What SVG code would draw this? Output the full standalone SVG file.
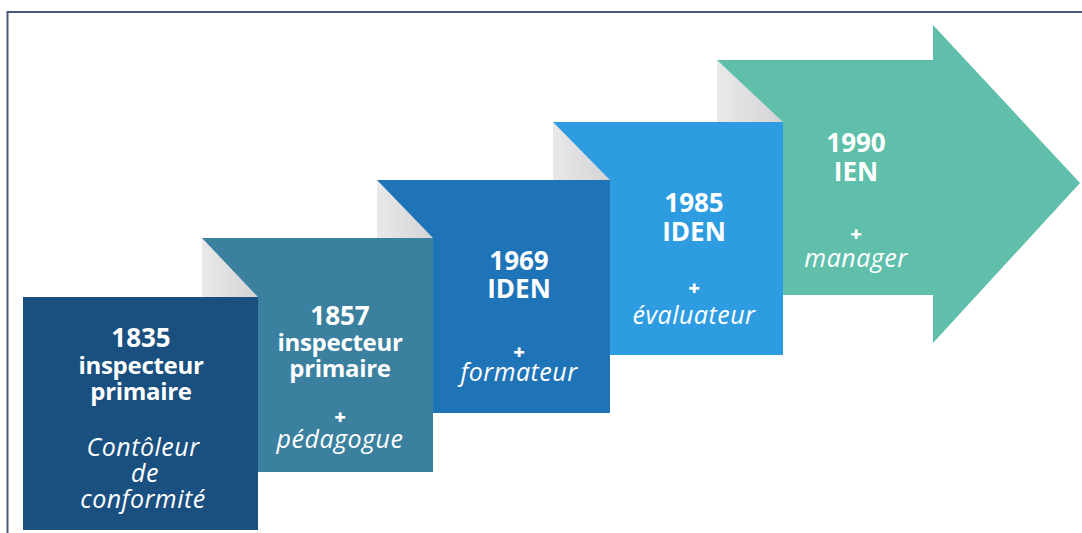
<svg xmlns="http://www.w3.org/2000/svg" width="1082" height="533" viewBox="0 0 1082 533">
<defs>
<linearGradient id="fold" x1="0" y1="0" x2="1" y2="0">
<stop offset="0" stop-color="#e9e9ea"/>
<stop offset="1" stop-color="#d3d3d6"/>
</linearGradient>
<style>
.t{font-family:"Open Sans","Liberation Sans",sans-serif;fill:#ffffff;text-anchor:middle;}
.b{font-weight:700;font-size:24px;letter-spacing:-0.3px;}
.w{font-size:26px;letter-spacing:0;}
.i{font-style:italic;font-weight:400;font-size:25px;letter-spacing:0.5px;}
.p{font-weight:800;font-size:20px;font-style:normal;letter-spacing:0;}
.fold{fill:url(#fold);}
</style>
</defs>
<rect x="0" y="0" width="1082" height="533" fill="#ffffff"/>
<path d="M7.5 533 V12 H1082" fill="none" stroke="#4a5878" stroke-width="2"/>
<g id="n1990">
<polygon points="717,60 933,60 933,25 1080,183 933,343 933,295 717,295" fill="#60bfab"/>
<polygon class="fold" points="717,60 783,122 717,122"/>
<text class="t"><tspan class="b w" x="856" y="152">1990</tspan><tspan class="b w" x="856" y="181">IEN</tspan><tspan class="p" x="856" y="241">+</tspan><tspan class="i" x="856" y="267">manager</tspan></text>
</g>
<g id="n1985">
<rect x="553" y="122" width="230" height="233" fill="#2e9ce0"/>
<polygon class="fold" points="553,122 610,180 553,180"/>
<text class="t"><tspan class="b w" x="694" y="212">1985</tspan><tspan class="b w" x="694" y="241">IDEN</tspan><tspan class="p" x="694" y="295">+</tspan><tspan class="i" x="694" y="324">évaluateur</tspan></text>
</g>
<g id="n1969">
<rect x="377" y="180" width="233" height="233" fill="#1f74b7"/>
<polygon class="fold" points="377,180 433,238 377,238"/>
<text class="t"><tspan class="b w" x="519" y="270">1969</tspan><tspan class="b w" x="519" y="298">IDEN</tspan><tspan class="p" x="519" y="359">+</tspan><tspan class="i" x="519" y="381">formateur</tspan></text>
</g>
<g id="n1857">
<rect x="202" y="238" width="231" height="234" fill="#3b819f"/>
<polygon class="fold" points="202,238 258,297 202,297"/>
<text class="t"><tspan class="b w" x="340" y="325">1857</tspan><tspan class="b" x="340" y="351">inspecteur</tspan><tspan class="b" x="340" y="377">primaire</tspan><tspan class="p" x="340" y="424">+</tspan><tspan class="i" x="340" y="448">pédagogue</tspan></text>
</g>
<g id="n1835">
<rect x="23" y="297" width="235" height="233" fill="#1a5080"/>
<text class="t"><tspan class="b w" x="141" y="347">1835</tspan><tspan class="b" x="141" y="374">inspecteur</tspan><tspan class="b" x="141" y="400">primaire</tspan><tspan class="i" x="143" y="456">Contôleur</tspan><tspan class="i" x="145" y="482">de</tspan><tspan class="i" x="143" y="508">conformité</tspan></text>
</g>
<g id="connectors"></g>
</svg>
